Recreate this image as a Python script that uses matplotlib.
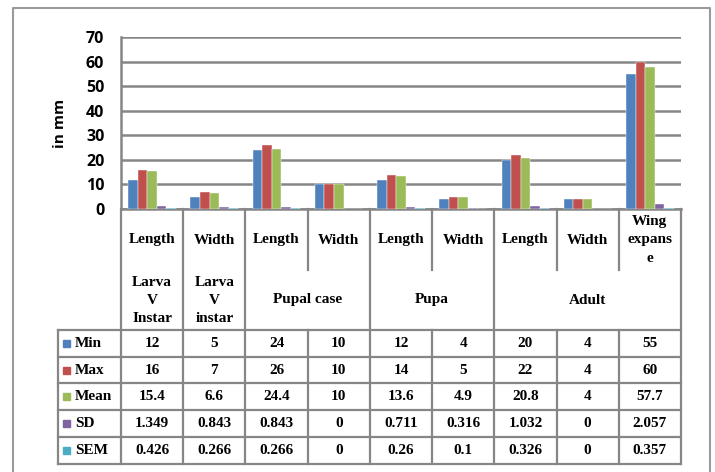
import matplotlib
matplotlib.use('Agg')
import matplotlib.pyplot as plt
import numpy as np

# chart data
categories = ['Length', 'Width', 'Length', 'Width', 'Length', 'Width',
              'Length', 'Width', 'Wing\nexpans\ne']
group_names = ['Larva\nV\nInstar', 'Larva\nV\ninstar', 'Pupal case', 'Pupa', 'Adult']
group_spans = [1, 1, 2, 2, 3]

series_names = ['Min', 'Max', 'Mean', 'SD', 'SEM']
min_vals = [12, 5, 24, 10, 12, 4, 20, 4, 55]
max_vals = [16, 7, 26, 10, 14, 5, 22, 4, 60]
mean_vals = [15.4, 6.6, 24.4, 10, 13.6, 4.9, 20.8, 4, 57.7]
sd_vals = [1.349, 0.843, 0.843, 0, 0.711, 0.316, 1.032, 0, 2.057]
sem_vals = [0.426, 0.266, 0.266, 0, 0.26, 0.1, 0.326, 0, 0.357]
all_vals = [min_vals, max_vals, mean_vals, sd_vals, sem_vals]

colors = ['#4F81BD', '#C0504D', '#9BBB59', '#8064A2', '#4BACC6']
grid_col = '#868686'

W, H = 715, 472
fig = plt.figure(figsize=(W / 100, H / 100), dpi=100)

# layout in pixels
px_left, px_right = 121, 681
px_top, px_zero = 37, 209
cat_bottom = 270
row_edges = [330, 357, 383, 410, 437, 464]
legend_left = 58

# overlay for table / frame, pixel coordinates
ov = fig.add_axes([0, 0, 1, 1])
ov.set_xlim(0, W)
ov.set_ylim(H, 0)
ov.axis('off')

# bar chart
ax = fig.add_axes([px_left / W, 1 - px_zero / H,
                   (px_right - px_left) / W, (px_zero - px_top) / H])
x = np.arange(len(categories))
bw = 1 / 6.5
for i, (name, vals) in enumerate(zip(series_names, all_vals)):
    ax.bar(x + (i - 2) * bw, vals, width=bw, color=colors[i],
           edgecolor='white', linewidth=0.3, zorder=3)
ax.set_xlim(-0.5, len(categories) - 0.5)
ax.set_ylim(0, 70)
ax.set_yticks(range(0, 71, 10))
ax.set_xticks([])
ax.yaxis.grid(True, color=grid_col, linewidth=1.8, zorder=0)
ax.set_axisbelow(True)
for s in ['top', 'right', 'bottom']:
    ax.spines[s].set_visible(False)
ax.spines['left'].set_color(grid_col)
ax.spines['left'].set_linewidth(1.8)
ax.tick_params(axis='y', length=0, pad=12)
for lab in ax.get_yticklabels():
    lab.set_fontfamily('Open Sans')
    lab.set_fontweight('bold')
    lab.set_fontsize(11.5)
ax.patch.set_alpha(0)

# outer frame
ov.plot([13, 13, 710, 710], [H + 5, 8, 8, H + 5], color='#9A9A9A', lw=1.5)

ov.text(60, 123, 'in mm', rotation=90, ha='center', va='center',
        fontfamily='Open Sans', fontweight='bold', fontsize=11)

# table grid
col_w = (px_right - px_left) / len(categories)
col_edges = [px_left + k * col_w for k in range(len(categories) + 1)]
lw = 1.6
ov.plot([px_left, px_right], [px_zero, px_zero], color=grid_col, lw=1.8)
for yy in row_edges:
    ov.plot([legend_left, px_right], [yy, yy], color=grid_col, lw=lw)
ov.plot([legend_left, legend_left], [row_edges[0], row_edges[-1]], color=grid_col, lw=lw)

group_bounds = np.cumsum([0] + group_spans)
for k, xe in enumerate(col_edges):
    if k in group_bounds:
        ov.plot([xe, xe], [px_zero, row_edges[-1]], color=grid_col, lw=lw)
    else:
        ov.plot([xe, xe], [px_zero, cat_bottom], color=grid_col, lw=lw)
        ov.plot([xe, xe], [row_edges[0], row_edges[-1]], color=grid_col, lw=lw)

tfont = dict(fontfamily='Liberation Serif', fontweight='bold', fontsize=11)

# category labels
for k, c in enumerate(categories):
    ov.text((col_edges[k] + col_edges[k + 1]) / 2, 240, c, ha='center', va='center',
            linespacing=1.5, **tfont)

# group labels
for g, name in enumerate(group_names):
    x0 = col_edges[group_bounds[g]]
    x1 = col_edges[group_bounds[g + 1]]
    ov.text((x0 + x1) / 2, 300, name, ha='center', va='center', linespacing=1.5, **tfont)

# data rows
for r, (name, vals) in enumerate(zip(series_names, all_vals)):
    yc = (row_edges[r] + row_edges[r + 1]) / 2
    ov.add_patch(plt.Rectangle((63, yc - 3.5), 7, 7, color=colors[r]))
    ov.text(75, yc, name, ha='left', va='center', **tfont)
    for k, v in enumerate(vals):
        ov.text((col_edges[k] + col_edges[k + 1]) / 2, yc, f'{v:g}',
                ha='center', va='center', **tfont)

fig.savefig('out.png', dpi=100)
